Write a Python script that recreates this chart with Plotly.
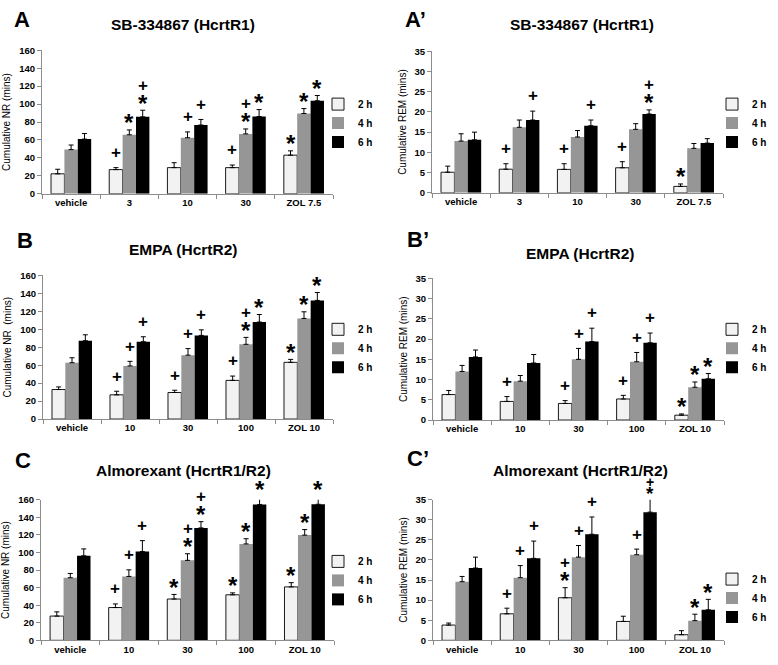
import plotly.graph_objects as go

# ---------------- DATA ----------------
categories_A = ["vehicle", "3", "10", "30", "ZOL 7.5"]
categories_BC = ["vehicle", "10", "30", "100", "ZOL 10"]
series_names = ["2 h", "4 h", "6 h"]

# Panel A: SB-334867 (HcrtR1), cumulative NR
A_2h = [22.3, 27.0, 29.2, 29.2, 43.1]
A_2h_err = [5.1, 2.2, 5.5, 2.9, 4.8]
A_4h = [49.3, 65.8, 62.5, 66.8, 89.5]
A_4h_err = [5.1, 5.4, 6.5, 5.5, 5.5]
A_6h = [61.0, 85.8, 76.7, 86.2, 103.7]
A_6h_err = [6.2, 7.4, 6.2, 7.7, 5.9]
A_marks_2h = ["", "+", "", "+", "*"]
A_marks_4h = ["", "*", "+", "+*", "*"]
A_marks_6h = ["", "+*", "+", "*", "*"]

# Panel A': SB-334867 (HcrtR1), cumulative REM
Ap_2h = [5.1, 5.85, 5.8, 6.2, 1.6]
Ap_2h_err = [1.5, 1.35, 1.4, 1.5, 0.6]
Ap_4h = [12.8, 16.2, 13.8, 15.7, 11.0]
Ap_4h_err = [1.8, 1.8, 1.6, 1.4, 1.2]
Ap_6h = [13.1, 18.0, 16.6, 19.5, 12.3]
Ap_6h_err = [1.9, 2.2, 1.4, 1.0, 1.1]
Ap_marks_2h = ["", "+", "+", "+", "*"]
Ap_marks_4h = ["", "", "", "", ""]
Ap_marks_6h = ["", "+", "+", "+*", ""]

# Panel B: EMPA (HcrtR2), cumulative NR
B_2h = [32.9, 27.0, 29.6, 43.1, 63.2]
B_2h_err = [2.9, 4.0, 2.5, 4.8, 3.3]
B_4h = [62.8, 59.2, 71.2, 83.3, 112.1]
B_4h_err = [5.5, 5.1, 7.3, 7.7, 7.4]
B_6h = [87.3, 86.2, 93.2, 108.1, 132.2]
B_6h_err = [6.6, 5.5, 6.2, 8.4, 8.8]
B_marks_2h = ["", "+", "+", "+", "*"]
B_marks_4h = ["", "+", "+", "+*", "*"]
B_marks_6h = ["", "+", "+", "*", "*"]

# Panel B': EMPA (HcrtR2), cumulative REM
Bp_2h = [6.3, 4.6, 4.1, 5.2, 1.2]
Bp_2h_err = [1.0, 1.2, 0.7, 0.9, 0.3]
Bp_4h = [12.0, 9.6, 15.0, 14.4, 8.1]
Bp_4h_err = [1.5, 1.4, 2.7, 2.3, 1.3]
Bp_6h = [15.6, 14.1, 19.4, 19.1, 10.2]
Bp_6h_err = [1.7, 2.1, 3.3, 2.4, 1.3]
Bp_marks_2h = ["", "+", "+", "+", "*"]
Bp_marks_4h = ["", "", "+", "+", "*"]
Bp_marks_6h = ["", "", "+", "+", "*"]

# Panel C: Almorexant (HcrtR1/R2), cumulative NR
C_2h = [27.6, 37.3, 47.0, 51.8, 60.8]
C_2h_err = [4.8, 4.1, 5.2, 2.2, 4.8]
C_4h = [71.2, 72.7, 91.0, 109.7, 119.7]
C_4h_err = [4.9, 7.5, 7.5, 5.9, 6.3]
C_6h = [96.2, 101.0, 127.9, 154.4, 154.8]
C_6h_err = [7.8, 12.4, 7.1, 9.3, 8.9]
C_marks_2h = ["", "+", "*", "*", "*"]
C_marks_4h = ["", "+", "+*", "*", "*"]
C_marks_6h = ["", "+", "+*", "*", "*"]

# Panel C': Almorexant (HcrtR1/R2), cumulative REM
Cp_2h = [3.8, 6.6, 10.6, 4.7, 1.4]
Cp_2h_err = [0.5, 1.4, 2.5, 1.3, 1.0]
Cp_4h = [14.6, 15.6, 20.7, 21.3, 4.9]
Cp_4h_err = [1.3, 3.0, 2.9, 1.4, 1.6]
Cp_6h = [18.0, 20.4, 26.4, 31.9, 7.6]
Cp_6h_err = [2.7, 4.3, 4.3, 3.5, 2.6]
Cp_marks_2h = ["", "+", "+*", "", ""]
Cp_marks_4h = ["", "+", "+", "+", "*"]
Cp_marks_6h = ["", "+", "+", "+*", "*"]

# ---------------- STYLE / LAYOUT ----------------
W, H = 778, 665
FONT = "Liberation Sans, Arial, sans-serif"
colors = ["#f2f2f2", "#969696", "#000000"]
line_w = [0.9, 0, 0]
BARGAP = 0.31
bar_w = (1 - BARGAP) / 3
offsets = [-bar_w, 0, bar_w]
# (panel, series, category) whose stacked marks are drawn smaller (squeezed under the title)
compact_marks = {(5, 2, 3)}


def px2x(px):
    return px / W


def px2y(px):
    return 1 - px / H


panels = [
    dict(letter="A", title="SB-334867 (HcrtR1)", cats=categories_A, ytitle="Cumulative NR (mins)",
         yr=[0, 160], dt=20, vals=[A_2h, A_4h, A_6h], errs=[A_2h_err, A_4h_err, A_6h_err],
         marks=[A_marks_2h, A_marks_4h, A_marks_6h],
         xd=(42, 333), yd=(191, 45), letter_pos=(12, 14), title_pos=(183, 19), legend_row1=104, legend_x=318),
    dict(letter="A\u2019", title="SB-334867 (HcrtR1)", cats=categories_A, ytitle="Cumulative REM (mins)",
         yr=[0, 35], dt=5, vals=[Ap_2h, Ap_4h, Ap_6h], errs=[Ap_2h_err, Ap_4h_err, Ap_6h_err],
         marks=[Ap_marks_2h, Ap_marks_4h, Ap_marks_6h],
         xd=(432, 723), yd=(190, 46), letter_pos=(403, 14), title_pos=(582, 19), legend_row1=104, legend_x=712),
    dict(letter="B", title="EMPA (HcrtR2)", cats=categories_BC, ytitle="Cumulative NR  (mins)",
         yr=[0, 160], dt=20, vals=[B_2h, B_4h, B_6h], errs=[B_2h_err, B_4h_err, B_6h_err],
         marks=[B_marks_2h, B_marks_4h, B_marks_6h],
         xd=(43, 333), yd=(420, 274), letter_pos=(15, 238), title_pos=(183, 248), legend_row1=333, legend_x=318),
    dict(letter="B\u2019", title="EMPA (HcrtR2)", cats=categories_BC, ytitle="Cumulative REM (mins)",
         yr=[0, 35], dt=5, vals=[Bp_2h, Bp_4h, Bp_6h], errs=[Bp_2h_err, Bp_4h_err, Bp_6h_err],
         marks=[Bp_marks_2h, Bp_marks_4h, Bp_marks_6h],
         xd=(433, 724), yd=(421, 277), letter_pos=(405, 237), title_pos=(580, 252), legend_row1=333, legend_x=712),
    dict(letter="C", title="Almorexant (HcrtR1/R2)", cats=categories_BC, ytitle="Cumulative NR (mins)",
         yr=[0, 160], dt=20, vals=[C_2h, C_4h, C_6h], errs=[C_2h_err, C_4h_err, C_6h_err],
         marks=[C_marks_2h, C_marks_4h, C_marks_6h],
         xd=(41, 334), yd=(645, 502), letter_pos=(13, 462), title_pos=(183, 472), legend_row1=569, legend_x=318),
    dict(letter="C\u2019", title="Almorexant (HcrtR1/R2)", cats=categories_BC, ytitle="Cumulative REM (mins)",
         yr=[0, 35], dt=5, vals=[Cp_2h, Cp_4h, Cp_6h], errs=[Cp_2h_err, Cp_4h_err, Cp_6h_err],
         marks=[Cp_marks_2h, Cp_marks_4h, Cp_marks_6h],
         xd=(433, 724), yd=(645, 502), letter_pos=(405, 460), title_pos=(580, 472), legend_row1=587, legend_x=712),
]

fig = go.Figure()
annotations = []
layout = dict(
    width=W, height=H, margin=dict(l=0, r=0, t=0, b=0),
    paper_bgcolor="white", plot_bgcolor="white",
    barmode="group", bargap=BARGAP, bargroupgap=0,
    font=dict(family=FONT, color="black"),
)

for i, p in enumerate(panels):
    n = "" if i == 0 else str(i + 1)
    xa, ya = "x" + n, "y" + n
    leg = "legend" + n
    px_per_unit = (p["yd"][0] - p["yd"][1]) / (p["yr"][1] - p["yr"][0])
    for s in range(3):
        fig.add_trace(go.Bar(
            x=p["cats"], y=p["vals"][s], name="<b>" + series_names[s] + "</b>",
            xaxis=xa, yaxis=ya, legend=leg,
            marker=dict(color=colors[s], line=dict(color="black", width=line_w[s])),
            error_y=dict(type="data", array=p["errs"][s], symmetric=False,
                         arrayminus=[0] * len(p["errs"][s]), color="black", thickness=1, width=2.5),
            cliponaxis=False,
        ))
        # significance marks, anchored at the bar top and lifted above its error bar
        for k, m in enumerate(p["marks"][s]):
            if not m:
                continue
            lift = p["errs"][s][k] * px_per_unit
            xpos = k + offsets[s]
            ybar = p["vals"][s][k]
            compact = (i, s, k) in compact_marks
            star_size, plus_size = (19, 14) if compact else (24, 17)
            star_shift = 4 if compact else 7
            if "*" in m:
                annotations.append(dict(x=xpos, y=ybar, xref=xa, yref=ya, text="<b>*</b>", showarrow=False,
                                        yanchor="middle", yshift=lift + star_shift,
                                        font=dict(size=star_size, family=FONT)))
            if "+" in m:
                if "*" in m:
                    shift = 16 if compact else 25
                else:
                    shift = 15
                annotations.append(dict(x=xpos, y=ybar, xref=xa, yref=ya, text="<b>+</b>", showarrow=False,
                                        yanchor="middle", yshift=lift + shift,
                                        font=dict(size=plus_size, family=FONT)))
    layout["xaxis" + n] = dict(
        domain=[px2x(p["xd"][0]), px2x(p["xd"][1])], anchor=ya, type="category",
        showline=True, linecolor="#8c8c8c", linewidth=1, ticks="outside", tickson="boundaries",
        ticklen=4, tickcolor="#8c8c8c", tickfont=dict(size=9.5, family=FONT, weight="bold"),
        showgrid=False, zeroline=False, range=[-0.5, 4.5],
    )
    layout["yaxis" + n] = dict(
        domain=[px2y(p["yd"][0]), px2y(p["yd"][1])], anchor=xa, range=p["yr"], dtick=p["dt"],
        showline=True, linecolor="#8c8c8c", linewidth=1, ticks="outside", ticklen=4,
        tickcolor="#8c8c8c", tickfont=dict(size=9.5, family=FONT, weight="bold"), showgrid=False,
        zeroline=False,
        title=dict(text=p["ytitle"], font=dict(size=10, family=FONT), standoff=6),
    )
    layout[leg] = dict(
        x=px2x(p["legend_x"]), y=px2y(p["legend_row1"] - 19), xanchor="left", yanchor="top",
        font=dict(size=10, family=FONT), itemwidth=30, bgcolor="rgba(0,0,0,0)",
        tracegroupgap=0, traceorder="normal",
    )
    annotations.append(dict(x=px2x(p["letter_pos"][0]), y=px2y(p["letter_pos"][1]), xref="paper", yref="paper",
                            text="<b>" + p["letter"] + "</b>", showarrow=False, xanchor="left", yanchor="middle",
                            font=dict(size=22, family=FONT)))
    annotations.append(dict(x=px2x(p["title_pos"][0]), y=px2y(p["title_pos"][1]), xref="paper", yref="paper",
                            text="<b>" + p["title"] + "</b>", showarrow=False, xanchor="center", yanchor="middle",
                            font=dict(size=15.5, family=FONT)))

layout["annotations"] = annotations
fig.update_layout(**layout)
fig.write_html("out.html", config={"displayModeBar": False},
               post_script="document.body.style.margin='0';")
